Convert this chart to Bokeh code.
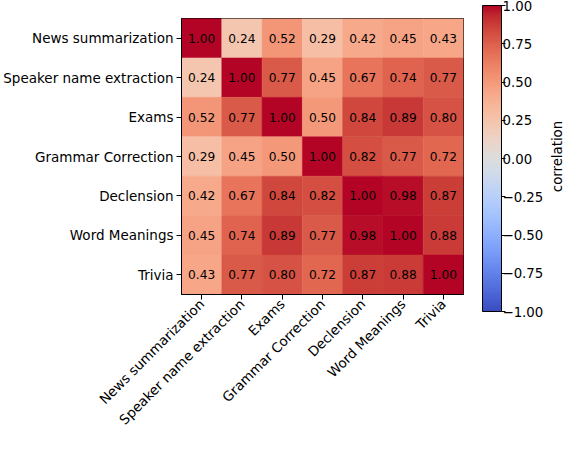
import numpy as np
from bokeh.plotting import figure
from bokeh.layouts import row
from bokeh.models import (ColumnDataSource, FactorRange, LinearColorMapper, ColorBar,
                          FixedTicker, CustomJSTickFormatter, Title)
from bokeh.transform import transform
from bokeh.core.properties import value
from bokeh.embed import file_html
from bokeh.resources import INLINE

# ---------------- data ----------------
tasks = ["News summarization", "Speaker name extraction", "Exams", "Grammar Correction",
         "Declension", "Word Meanings", "Trivia"]
row_news = [1.00, 0.24, 0.52, 0.29, 0.42, 0.45, 0.43]
row_speaker = [0.24, 1.00, 0.77, 0.45, 0.67, 0.74, 0.77]
row_exams = [0.52, 0.77, 1.00, 0.50, 0.84, 0.89, 0.80]
row_grammar = [0.29, 0.45, 0.50, 1.00, 0.82, 0.77, 0.72]
row_declension = [0.42, 0.67, 0.84, 0.82, 1.00, 0.98, 0.87]
row_word = [0.45, 0.74, 0.89, 0.77, 0.98, 1.00, 0.88]
row_trivia = [0.43, 0.77, 0.80, 0.72, 0.87, 0.88, 1.00]
matrix = [row_news, row_speaker, row_exams, row_grammar, row_declension, row_word, row_trivia]
cbar_ticks = [-1.0, -0.75, -0.5, -0.25, 0.0, 0.25, 0.5, 0.75, 1.0]
cbar_label = "correlation"

# ---------------- colormap (coolwarm) ----------------
_cw = np.array([
    (0.2298057, 0.298717966, 0.753683153), (0.26623388, 0.353094838, 0.801466763),
    (0.30386891, 0.406535296, 0.84495867), (0.342804478, 0.458757618, 0.883725899),
    (0.38301334, 0.50941904, 0.917387822), (0.424369608, 0.558148092, 0.945619588),
    (0.46666708, 0.604562568, 0.968154911), (0.509635204, 0.648280772, 0.98478814),
    (0.552953156, 0.688929332, 0.995375608), (0.596262162, 0.726149107, 0.999836203),
    (0.639176211, 0.759599947, 0.998151185), (0.681291281, 0.788964712, 0.990363227),
    (0.722193294, 0.813952739, 0.976574709), (0.761464949, 0.834302879, 0.956945269),
    (0.798691636, 0.849786142, 0.931688648), (0.833466556, 0.860207984, 0.901068838),
    (0.865395197, 0.86541021, 0.865395561), (0.897787179, 0.848937047, 0.820880546),
    (0.924127593, 0.827384882, 0.774508472), (0.944468518, 0.800927443, 0.726736146),
    (0.958852946, 0.769767752, 0.678007945), (0.96732803, 0.734132809, 0.628751763),
    (0.969954137, 0.694266682, 0.579375448), (0.966811177, 0.650421156, 0.530263762),
    (0.958003065, 0.602842431, 0.481775914), (0.943660866, 0.551750968, 0.434243684),
    (0.923944917, 0.49730856, 0.387970225), (0.89904617, 0.439559467, 0.343229596),
    (0.869186849, 0.378313092, 0.300267182), (0.834620542, 0.312874446, 0.259301199),
    (0.795631745, 0.24128379, 0.220525627), (0.752534934, 0.157246067, 0.184115123),
    (0.705673158, 0.01555616, 0.150232812)])
_pos = np.linspace(0, 1, len(_cw))
palette = []
for t in np.linspace(0, 1, 256):
    r, g, b = (np.interp(t, _pos, _cw[:, k]) for k in range(3))
    palette.append("#%02x%02x%02x" % (int(round(r * 255)), int(round(g * 255)), int(round(b * 255))))

mapper = LinearColorMapper(palette=palette, low=-1, high=1)

xs, ys, vals, txt = [], [], [], []
for i, row_vals in enumerate(matrix):
    for j, v in enumerate(row_vals):
        xs.append(tasks[j]); ys.append(tasks[i]); vals.append(v); txt.append("%.2f" % v)
src = ColumnDataSource(dict(x=xs, y=ys, v=vals, t=txt))

FONT = "DejaVu Sans"
TICK_FS = "13.5px"

p = figure(width=548, height=436, output_backend="svg", toolbar_location=None,
           x_range=FactorRange(factors=tasks), y_range=FactorRange(factors=list(reversed(tasks))),
           min_border_left=179, min_border_right=85, min_border_top=18, min_border_bottom=139)
p.rect(x="x", y="y", width=1, height=1, source=src,
       fill_color=transform("v", mapper), line_color=transform("v", mapper), line_width=0.5)
p.text(x="x", y="y", text="t", source=src, text_align="center", text_baseline="middle",
       text_font=value(FONT), text_font_size="12.2px", text_color="black")

p.grid.visible = False
p.outline_line_color = "black"
p.outline_line_width = 1
for ax in (p.xaxis[0], p.yaxis[0]):
    ax.axis_line_color = "black"
    ax.major_tick_line_color = "black"
    ax.major_tick_out = 5
    ax.major_tick_in = 0
    ax.minor_tick_line_color = None
    ax.major_label_text_font = FONT
    ax.major_label_text_font_size = TICK_FS
    ax.major_label_text_color = "black"
    ax.major_label_standoff = 3
p.xaxis.major_label_orientation = np.pi / 4
p.xaxis.major_label_standoff = 2

cb = ColorBar(color_mapper=mapper, location=(301, -17), width=19, height=306, padding=0,
              ticker=FixedTicker(ticks=cbar_ticks),
              formatter=CustomJSTickFormatter(code="return tick.toFixed(2).replace('-', '\u2212');"),
              major_tick_out=4, major_tick_in=0, major_tick_line_color="black",
              bar_line_color="black", border_line_color=None, background_fill_alpha=0,
              major_label_text_font=FONT, major_label_text_font_size="13.3px",
              major_label_text_color="black", label_standoff=-3)
p.add_layout(cb, "center")

# narrow companion figure carrying the colour-bar caption (reads bottom-to-top)
p3 = figure(width=16, height=436, output_backend="svg", toolbar_location=None,
            x_axis_location=None, y_axis_location=None, outline_line_color=None,
            min_border_left=0, min_border_right=0, min_border_top=8, min_border_bottom=122)
p3.grid.visible = False
p3.add_layout(Title(text=cbar_label, align="center", text_font=FONT, text_font_size="13.3px",
                    text_font_style="normal", text_color="black", standoff=0, offset=0), "left")

open("out.html", "w").write(file_html(row(p, p3), INLINE))
